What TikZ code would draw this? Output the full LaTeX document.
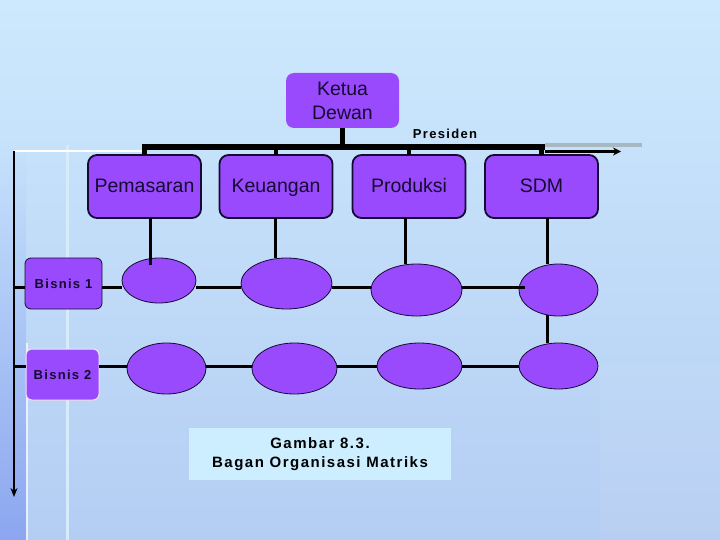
\documentclass[tikz,border=0pt]{standalone}
\usepackage{fontspec}
\setmainfont{Liberation Sans}
\newfontfamily\spfont[LetterSpace=10]{Liberation Sans}
\usetikzlibrary{arrows.meta,shapes.geometric}
\definecolor{purp}{RGB}{154,74,253}
\definecolor{ink}{RGB}{20,10,50}
\definecolor{bgtop}{RGB}{205,233,253}
\definecolor{bgbot}{RGB}{180,205,243}
\definecolor{capfill}{RGB}{205,238,255}
\definecolor{strip}{RGB}{140,166,240}
\definecolor{pale}{RGB}{214,236,250}
\definecolor{graybar}{RGB}{168,184,192}
\begin{document}
\begin{tikzpicture}[x=1pt,y=-1pt,
  every node/.style={inner sep=0pt,outer sep=0pt},
  topbox/.style={rectangle,rounded corners=8pt,fill=purp,text=ink,align=center,
    font=\fontsize{19.5}{24}\selectfont,minimum width=113pt,minimum height=55pt},
  dept/.style={rectangle,rounded corners=9pt,draw=ink,line width=1.8pt,fill=purp,text=ink,
    font=\fontsize{19.5}{24}\selectfont,minimum width=113pt,minimum height=63pt,
    text height=15pt,text depth=3pt},
  bisnis/.style={rectangle,rounded corners=6pt,fill=purp,text=ink,
    font=\spfont\bfseries\fontsize{13}{15}\selectfont,minimum height=51pt},
  cell/.style={ellipse,draw=ink,line width=0.8pt,fill=purp},
  conn/.style={draw=black,line width=3pt},
  bar/.style={draw=black,line width=6pt},
  tick/.style={draw=black,line width=4.5pt}
]
\useasboundingbox (0,0) rectangle (720,540);
% background
\shade[top color=bgtop,bottom color=bgbot] (0,0) rectangle (720,540);
\shade[top color=bgtop!75!bgbot,bottom color=strip] (0,140) rectangle (26,540);
\fill[white,opacity=0.06] (600,363) rectangle (720,540);
\draw[pale,line width=3pt] (67,145) -- (67,540);
\draw[white,opacity=0.7,line width=2pt] (27,343) -- (27,540);

% coordinates
\coordinate (axtop) at (14,151);
\coordinate (axbot) at (14,497);
\coordinate (r1) at (14,287);
\coordinate (r2) at (14,366.5);
\coordinate (wl) at (145,151);
\coordinate (barL) at (142,147);
\coordinate (barR) at (545,147);
\coordinate (arrS) at (545,151.5);
\coordinate (arrE) at (621,151.5);
\coordinate (grS) at (545,145.5);
\coordinate (grE) at (642,145.5);

% nodes
\node[topbox] (ketua) at (342.5,100.5) {Ketua\\Dewan};
\node[dept] (pem) at (144.5,186.5) {Pemasaran};
\node[dept] (keu) at (276,186.5) {Keuangan};
\node[dept] (pro) at (409,186.5) {Produksi};
\node[dept] (sdm) at (541.5,186.5) {SDM};
\node[font=\spfont\bfseries\fontsize{13}{15}\selectfont,text=black] (pres) at (445,133.5) {Presiden};

% lines behind nodes
\draw[graybar,line width=4pt] (grS) -- (grE);
\draw[black,line width=2.5pt,-{Stealth[length=8pt,width=8pt]}] (arrS) -- (arrE);
\draw[white,line width=2.5pt] (axtop) -- (wl);
\draw[black,line width=2.8pt,-{Stealth[length=9pt,width=7pt]}] (axtop) -- (axbot);
\draw[bar] (barL) -- (barR);
\draw[tick] (ketua.south) -- (ketua.south |- barL);
\draw[tick] (pem.north -| barL) ++(2.5,0) -- ++(0,-9);
\draw[tick] (keu.north) -- (keu.north |- barL);
\draw[tick] (pro.north) -- (pro.north |- barL);
\draw[tick] (sdm.north) -- (sdm.north |- barL);

\node[bisnis,draw=ink,line width=0.8pt,minimum width=77pt] (b1) at (63.5,283.5) {Bisnis 1};
\node[bisnis,draw={rgb,255:red,245;green,225;blue,250},line width=1pt,minimum width=73pt] (b2) at (62.5,374.5) {Bisnis 2};

\node[cell,minimum width=74pt,minimum height=45pt] (e11) at (159,280.5) {};
\node[cell,minimum width=91pt,minimum height=51pt] (e12) at (286.5,283.5) {};
\node[cell,minimum width=91pt,minimum height=52pt] (e13) at (416.5,290) {};
\node[cell,minimum width=79pt,minimum height=52pt] (e14) at (558.5,290) {};
\node[cell,minimum width=79pt,minimum height=51pt] (e21) at (166.5,368.5) {};
\node[cell,minimum width=85pt,minimum height=51pt] (e22) at (294.5,368.5) {};
\node[cell,minimum width=85pt,minimum height=46pt] (e23) at (419.5,366) {};
\node[cell,minimum width=79pt,minimum height=46pt] (e24) at (558.5,366) {};

% row connectors (between nodes)
\draw[conn] (r1) -- (b1.west |- r1);
\draw[conn] (b1.east |- r1) -- (e11.west |- r1);
\draw[conn] (e11.east |- r1) -- (e12.west |- r1);
\draw[conn] (e12.east |- r1) -- (e13.west |- r1);
\draw[conn] (e13.east |- r1) -- ([xshift=6pt]e14.west |- r1);
\draw[conn] (r2) -- (b2.west |- r2);
\draw[conn] (b2.east |- r2) -- (e21.west |- r2);
\draw[conn] (e21.east |- r2) -- (e22.west |- r2);
\draw[conn] (e22.east |- r2) -- (e23.west |- r2);
\draw[conn] (e23.east |- r2) -- (e24.west |- r2);

% column connectors
\draw[conn] ([xshift=5.5pt]pem.south) -- ++(0,47);
\draw[conn] ([xshift=-0.5pt]keu.south) -- ([xshift=-0.5pt]keu.south |- e12.north);
\draw[conn] ([xshift=-4pt]pro.south) -- ([xshift=-4pt]pro.south |- e13.north);
\draw[conn] ([xshift=5.5pt]sdm.south) -- ([xshift=5.5pt]sdm.south |- e14.north);
\draw[conn] ([xshift=-11.5pt]e14.center |- 0,314.5) -- ([xshift=-11.5pt]e24.center |- e24.north);

% caption
\node[fill=capfill,minimum width=262pt,minimum height=52pt,align=center,text=black,
  font=\spfont\bfseries\fontsize{15}{19}\selectfont] (cap) at (320,454) {Gambar 8.3.\\Bagan Organisasi Matriks};
\end{tikzpicture}
\end{document}
